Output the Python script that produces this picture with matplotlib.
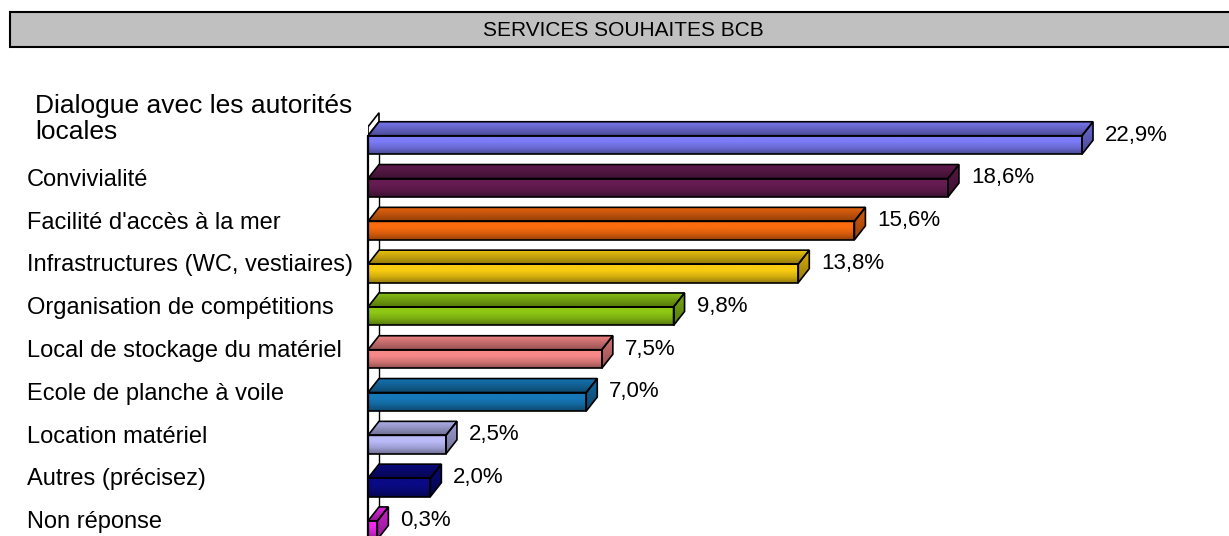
import matplotlib
matplotlib.use("Agg")
import matplotlib.pyplot as plt
import numpy as np
from matplotlib.patches import Polygon, Rectangle
from matplotlib.colors import to_rgb, LinearSegmentedColormap
from matplotlib.transforms import blended_transform_factory

# ---------------- data ----------------
title = "SERVICES SOUHAITES BCB"
categories = [
    "Dialogue avec les autorités\nlocales",
    "Convivialité",
    "Facilité d'accès à la mer",
    "Infrastructures (WC, vestiaires)",
    "Organisation de compétitions",
    "Local de stockage du matériel",
    "Ecole de planche à voile",
    "Location matériel",
    "Autres (précisez)",
    "Non réponse",
]
values = [22.9, 18.6, 15.6, 13.8, 9.8, 7.5, 7.0, 2.5, 2.0, 0.3]
value_labels = ["22,9%", "18,6%", "15,6%", "13,8%", "9,8%", "7,5%", "7,0%", "2,5%", "2,0%", "0,3%"]
colors = ["#7C7CF8", "#661C52", "#FA6C0E", "#F8CC10", "#8EC814",
          "#F88888", "#1678B8", "#BABAF8", "#0A0A86", "#F028F0"]

# ---------------- layout ----------------
plt.rcParams['font.family'] = ['Liberation Sans', 'DejaVu Sans']
W, H = 1229, 536
fig = plt.figure(figsize=(W / 100, H / 100), dpi=100)

ax_left_px, ax_top_px = 368, 100
ax = fig.add_axes([ax_left_px / W, 0, (W - ax_left_px) / W, (H - ax_top_px) / H])
px_per_pct = 31.18
row_px = 42.8
first_center_px = 145
xlim = (0, (W - ax_left_px) / px_per_pct)
ylim = ((H - first_center_px) / row_px, (ax_top_px - first_center_px) / row_px)
ax.set_xlim(*xlim)
ax.set_ylim(*ylim)
ax.axis('off')

h = 18.5 / row_px          # bar thickness
dx = 11 / px_per_pct       # 3D depth (x)
dy = 14 / row_px           # 3D depth (y, upwards)


def shade(c, f):
    r, g, b = to_rgb(c)
    return (r * f, g * f, b * f)


def grad(patch, extent, stops, z):
    cmap = LinearSegmentedColormap.from_list('g', stops)
    img = np.linspace(0, 1, 64).reshape(-1, 1)
    im = ax.imshow(img, cmap=cmap, extent=extent, aspect='auto',
                   origin='upper', zorder=z, interpolation='bilinear')
    im.set_clip_path(patch)


ypos = np.arange(len(values))

# back wall line and top of wall
yt0 = ypos[0] - h / 2
ax.plot([dx, dx], [yt0 - dy, ylim[0] + 1], color='black', lw=1.0, zorder=1, clip_on=False)
wall = Polygon([(0, yt0), (0, yt0 - 9 / row_px), (dx, yt0 - dy - 9 / row_px), (dx, yt0 - dy)],
               closed=True, facecolor='white', edgecolor='black', lw=1.2, zorder=1.5)
ax.add_patch(wall)

bars = ax.barh(ypos, values, height=h, left=0, facecolor='none',
               edgecolor='black', linewidth=1.2, zorder=5)

for i, (v, c, bar) in enumerate(zip(values, colors, bars)):
    yt = i - h / 2
    yb = i + h / 2
    # front face gradient (bright top -> darker bottom)
    grad(bar, (0, v, yb, yt), [c, c, shade(c, 0.85), shade(c, 0.6)], 4)
    # top face (dark back -> bright front)
    top = Polygon([(0, yt), (v, yt), (v + dx, yt - dy), (dx, yt - dy)], closed=True,
                  facecolor='none', edgecolor='black', lw=1.2, zorder=5)
    ax.add_patch(top)
    grad(top, (0, v + dx, yt, yt - dy), [shade(c, 0.95), shade(c, 0.6)], 4)
    # side face
    side = Polygon([(v, yt), (v + dx, yt - dy), (v + dx, yb - dy), (v, yb)], closed=True,
                   facecolor='none', edgecolor='black', lw=1.2, zorder=5)
    ax.add_patch(side)
    grad(side, (v, v + dx, yb, yt - dy), [shade(c, 0.85), shade(c, 0.6)], 4)
    # value label
    ax.text(v + dx + 12 / px_per_pct, i - 10 / row_px, value_labels[i],
            fontsize=16, va='center', ha='left', zorder=6, clip_on=False)

# front axis line
ax.plot([0, 0], [yt0, ylim[0] + 1], color='black', lw=1.6, zorder=6, clip_on=False)

ax.set_xlim(*xlim)
ax.set_ylim(*ylim)

# category labels
tr = blended_transform_factory(fig.transFigure, ax.transData)
for i, lab in enumerate(categories):
    if i == 0:
        ax.text(35 / W, i - 26 / row_px, lab, transform=tr, fontsize=19,
                va='center', ha='left', linespacing=1.15, clip_on=False)
    else:
        ax.text(27 / W, i - 8 / row_px, lab, transform=tr, fontsize=17,
                va='center', ha='left', clip_on=False)

# title box
fig.add_artist(Rectangle((10 / W, (H - 47) / H), (W - 8) / W, 35 / H,
                         transform=fig.transFigure, facecolor='#C0C0C0',
                         edgecolor='black', lw=1.5, zorder=0))
fig.text(623 / W, (H - 30) / H, title, ha='center', va='center', fontsize=15)

fig.savefig("out.png", dpi=100)
